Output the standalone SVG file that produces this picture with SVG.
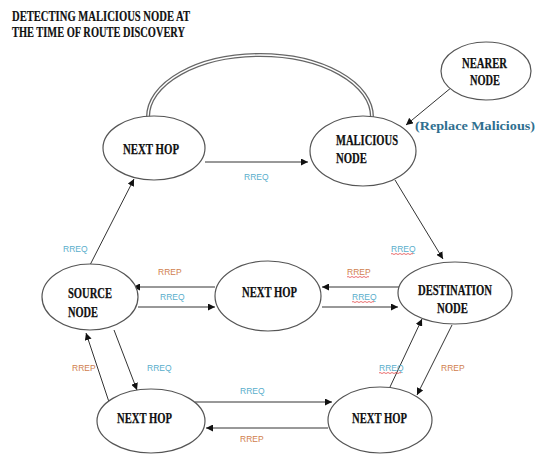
<svg xmlns="http://www.w3.org/2000/svg" width="535" height="458" viewBox="0 0 535 458">
<defs>
<marker id="ah" viewBox="0 0 10 10" refX="10" refY="5" markerWidth="7" markerHeight="7" markerUnits="userSpaceOnUse" orient="auto">
<path d="M0,0 L10,5 L0,10 z" fill="#111"/>
</marker>
</defs>
<style>
.nd{fill:#fff;stroke:#555;stroke-width:1.2}
.nt{font-family:"Liberation Serif","Times New Roman",serif;font-weight:bold;font-size:15px;fill:#111;stroke:#111;stroke-width:0.25}
.ttl{font-family:"Liberation Serif","Times New Roman",serif;font-weight:bold;font-size:14px;fill:#111;stroke:#111;stroke-width:0.2}
.ln{stroke:#333;stroke-width:1;fill:none;marker-end:url(#ah)}
.q{font-family:"Liberation Sans",Arial,sans-serif;font-size:8.5px;fill:#5aaecb}
.p{font-family:"Liberation Sans",Arial,sans-serif;font-size:8.5px;fill:#d0804e}
.wv{stroke:#e03030;stroke-width:0.7;fill:none}
</style>
<rect width="535" height="458" fill="#fff"/>
<g id="title">
<text class="ttl" x="12" y="21" textLength="178" lengthAdjust="spacingAndGlyphs">DETECTING MALICIOUS NODE AT</text>
<text class="ttl" x="12" y="37" textLength="173" lengthAdjust="spacingAndGlyphs">THE TIME OF ROUTE DISCOVERY</text>
</g>
<g id="connectors">
<path d="M148,117 A112,62 0 0 1 372,117" stroke="#666" stroke-width="4" fill="none"/>
<path d="M148,117 A112,62 0 0 1 372,117" stroke="#fff" stroke-width="1.4" fill="none"/>
<line class="ln" x1="205" y1="162" x2="308" y2="162"/>
<line class="ln" x1="452" y1="87" x2="406" y2="125"/>
<line class="ln" x1="90" y1="265" x2="134" y2="179"/>
<line class="ln" x1="395" y1="180" x2="443" y2="259"/>
<line class="ln" x1="404" y1="287" x2="322" y2="287"/>
<line class="ln" x1="322" y1="307" x2="398" y2="307"/>
<line class="ln" x1="215" y1="287" x2="133" y2="287"/>
<line class="ln" x1="138" y1="307" x2="215" y2="307"/>
<line class="ln" x1="114" y1="330" x2="137" y2="390"/>
<line class="ln" x1="109" y1="402" x2="86" y2="333"/>
<line class="ln" x1="195" y1="402" x2="332" y2="402"/>
<line class="ln" x1="328" y1="428" x2="206" y2="428"/>
<line class="ln" x1="390" y1="387" x2="422" y2="319"/>
<line class="ln" x1="452" y1="325" x2="417" y2="395"/>
</g>
<g id="labels">
<text class="q" x="244" y="180">RREQ</text>
<text class="q" x="63" y="252">RREQ</text>
<text class="p" x="158" y="275">RREP</text>
<text class="q" x="160" y="300">RREQ</text>
<text class="q" x="391" y="252">RREQ</text>
<text class="p" x="347" y="275">RREP</text>
<text class="q" x="352" y="300">RREQ</text>
<text class="p" x="72" y="371">RREP</text>
<text class="q" x="147" y="371">RREQ</text>
<text class="q" x="240" y="394">RREQ</text>
<text class="p" x="240" y="442">RREP</text>
<text class="q" x="379" y="371">RREQ</text>
<text class="p" x="441" y="371">RREP</text>
<path class="wv" d="M391,254 q1,-1 2,0 t2,0 t2,0 t2,0 t2,0 t2,0 t2,0 t2,0 t2,0 t2,0 t2,0"/>
<path class="wv" d="M347,277 q1,-1 2,0 t2,0 t2,0 t2,0 t2,0 t2,0 t2,0 t2,0 t2,0 t2,0 t2,0"/>
<path class="wv" d="M352,302 q1,-1 2,0 t2,0 t2,0 t2,0 t2,0 t2,0 t2,0 t2,0 t2,0 t2,0 t2,0"/>
<path class="wv" d="M379,373 q1,-1 2,0 t2,0 t2,0 t2,0 t2,0 t2,0 t2,0 t2,0 t2,0 t2,0 t2,0"/>
<text x="415" y="130" textLength="120" lengthAdjust="spacingAndGlyphs" style="font-family:'Liberation Serif','Times New Roman',serif;font-weight:bold;font-size:13px;fill:#2f6f8f">(Replace Malicious)</text>
</g>
<g id="node-nexthop-top">
<ellipse class="nd" cx="154" cy="148" rx="51" ry="32"/>
<text class="nt" x="123" y="154" textLength="56" lengthAdjust="spacingAndGlyphs">NEXT HOP</text>
</g>
<g id="node-malicious">
<ellipse class="nd" cx="363" cy="151" rx="53" ry="35"/>
<text class="nt" x="336" y="145" textLength="62" lengthAdjust="spacingAndGlyphs">MALICIOUS</text>
<text class="nt" x="336" y="163" textLength="31" lengthAdjust="spacingAndGlyphs">NODE</text>
</g>
<g id="node-nearer">
<ellipse class="nd" cx="486" cy="71" rx="45" ry="29"/>
<text class="nt" x="462" y="68" textLength="45" lengthAdjust="spacingAndGlyphs">NEARER</text>
<text class="nt" x="470" y="85" textLength="30" lengthAdjust="spacingAndGlyphs">NODE</text>
</g>
<g id="node-source">
<ellipse class="nd" cx="90" cy="297" rx="48" ry="33"/>
<text class="nt" x="68" y="298" textLength="44" lengthAdjust="spacingAndGlyphs">SOURCE</text>
<text class="nt" x="68" y="317" textLength="30" lengthAdjust="spacingAndGlyphs">NODE</text>
</g>
<g id="node-nexthop-mid">
<ellipse class="nd" cx="268" cy="296" rx="53" ry="35"/>
<text class="nt" x="242" y="297" textLength="55" lengthAdjust="spacingAndGlyphs">NEXT HOP</text>
</g>
<g id="node-destination">
<ellipse class="nd" cx="455" cy="293" rx="57" ry="31"/>
<text class="nt" x="418" y="295" textLength="74" lengthAdjust="spacingAndGlyphs">DESTINATION</text>
<text class="nt" x="437" y="313" textLength="31" lengthAdjust="spacingAndGlyphs">NODE</text>
</g>
<g id="node-nexthop-bl">
<ellipse class="nd" cx="151" cy="421" rx="54" ry="32"/>
<text class="nt" x="117" y="423" textLength="55" lengthAdjust="spacingAndGlyphs">NEXT HOP</text>
</g>
<g id="node-nexthop-br">
<ellipse class="nd" cx="380" cy="420" rx="52" ry="33"/>
<text class="nt" x="352" y="423" textLength="55" lengthAdjust="spacingAndGlyphs">NEXT HOP</text>
</g>
</svg>
